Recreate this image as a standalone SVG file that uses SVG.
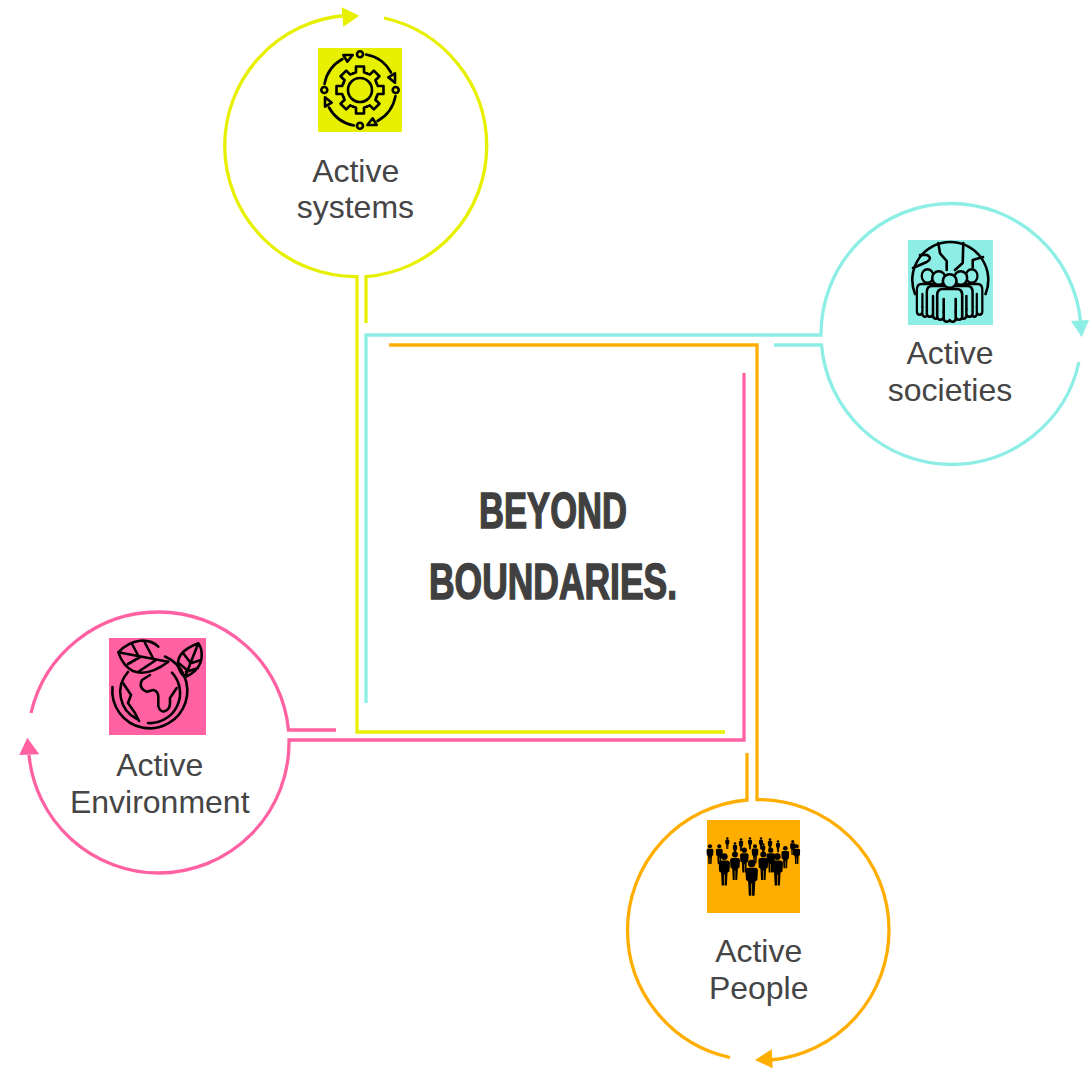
<svg xmlns="http://www.w3.org/2000/svg" width="1089" height="1068" viewBox="0 0 1089 1068">
<style>
.c{fill:none;stroke-width:3.3;stroke-linejoin:miter}
.y{stroke:#e6f000}.t{stroke:#8deee5}.p{stroke:#ff61a3}.o{stroke:#ffae00}
.ya{fill:#e6f000}.ta{fill:#8deee5}.pa{fill:#ff61a3}.oa{fill:#ffae00}
.l{font-family:"Liberation Sans",Arial,sans-serif;font-size:32px;fill:#454545;text-anchor:middle}
.h{font-family:"Liberation Sans",Arial,sans-serif;font-weight:700;font-size:50px;fill:#404040;stroke:#404040;stroke-width:1.5}
.i{fill:none;stroke:#000;stroke-width:2.6;stroke-linecap:round;stroke-linejoin:round}
</style>
<defs>
<g id="tooth"><path d="M-6.9,-16.6L-4,-17.8V-23.5H4V-17.8L6.9,-16.6"/></g>
<g id="cyc"><path d="M6,-35.5A36,36 0 0 1 31,-17.5"/><path d="M28.3,-12.7L35,-16.7V-7.3Z"/><circle cx="0" cy="-35.7" r="3"/></g>
<g id="per" fill="#000"><circle cx="0" cy="10" r="10.5"/><path d="M-10,22H10Q17,22 17.5,30L16,56L10,60L8,100H1V66H-1V100H-8L-10,60L-16,56L-17.5,30Q-17,22 -10,22Z"/></g>
<g id="man"><path d="M-7,8H7Q12.5,8 12.5,14V36A3.3,3.3 0 0 1 6,36V31V38A3.2,3.2 0 0 1 0,39A3.2,3.2 0 0 1 -6,38V31V36A3.3,3.3 0 0 1 -12.5,36V14Q-12.5,8 -7,8Z"/><path d="M-6,18V31M6,18V31"/><circle r="6.8"/></g>
</defs>

<g id="connectors">
<path class="c y" d="M725,732H357V276.6A131,131 0 0 1 224.7,146A131,131 0 0 1 345,15.5"/>
<path class="c y" d="M366,323V276.6A131,131 0 0 0 486.7,146A131,131 0 0 0 384,18"/>
<polygon class="ya" points="341.7,7.3 359.3,15.7 343.3,26.7"/>
<path class="c t" d="M366,703V335H821A130.5,130.5 0 0 1 951,203.5A130.5,130.5 0 0 1 1080.6,322"/>
<path class="c t" d="M774,345H821.5A130.5,130.5 0 0 0 951,464.5A130.5,130.5 0 0 0 1079,362"/>
<polygon class="ta" points="1071,321 1089,320 1081.7,337.3"/>
<path class="c p" d="M744,373V740H289A130.5,130.5 0 0 1 158.5,873A130.5,130.5 0 0 1 29,755"/>
<path class="c p" d="M336,730H288.5A130.5,130.5 0 0 0 158.5,612A130.5,130.5 0 0 0 31,713"/>
<polygon class="pa" points="19.3,755 39.3,754.3 27.3,737.7"/>
<path class="c o" d="M389,345H757V799.5A130.5,130.5 0 0 1 889,930A130.5,130.5 0 0 1 771,1060"/>
<path class="c o" d="M747,753V800A130.5,130.5 0 0 0 627.5,930A130.5,130.5 0 0 0 730,1057.5"/>
<polygon class="oa" points="755,1060 771.7,1049.3 772.7,1068.3"/>
</g>

<g id="node-systems">
<rect class="ya" x="318" y="48" width="84" height="84"/>
<g class="i" transform="translate(360,90)">
<circle r="12"/>
<use href="#tooth"/><use href="#tooth" transform="rotate(45)"/><use href="#tooth" transform="rotate(90)"/><use href="#tooth" transform="rotate(135)"/><use href="#tooth" transform="rotate(180)"/><use href="#tooth" transform="rotate(225)"/><use href="#tooth" transform="rotate(270)"/><use href="#tooth" transform="rotate(315)"/>
<use href="#cyc"/><use href="#cyc" transform="rotate(90)"/><use href="#cyc" transform="rotate(180)"/><use href="#cyc" transform="rotate(270)"/>
</g>
<text class="l" x="355.7" y="181.7">Active</text>
<text class="l" x="355.4" y="218">systems</text>
</g>

<g id="node-societies">
<rect class="ta" x="908" y="240" width="85" height="85"/>
<g class="i">
<path d="M915,294A38,38 0 1 1 985.6,294"/>
<path d="M938.3,243L940,253.3L946.7,261V270M963.3,243L962.7,263L955,270M913,268L926.7,262Q933,258 927,255H920M972.7,267V260L983,257"/>
<use href="#man" style="fill:#8deee5" transform="translate(927.5,276) scale(.85,1)"/>
<use href="#man" style="fill:#8deee5" transform="translate(971.7,276) scale(.85,1)"/>
<use href="#man" style="fill:#8deee5" transform="translate(938.7,278) scale(.95,1)"/>
<use href="#man" style="fill:#8deee5" transform="translate(960.7,278) scale(.95,1)"/>
<use href="#man" style="fill:#8deee5" transform="translate(949.7,281)"/>
</g>
<text class="l" x="950" y="364">Active</text>
<text class="l" x="950" y="400.7">societies</text>
</g>

<g id="node-environment">
<rect class="pa" x="109" y="638" width="97" height="97"/>
<g class="i">
<path d="M112.5,687A37.5,37.5 0 1 0 165,656.5"/>
<path d="M148,723A30,30 0 0 0 172,672.6"/>
<path d="M128,672A30,30 0 0 0 137,719"/>
<path d="M123,683L131,695L128,703L135,713L139,721"/>
<path d="M150,675L142,680Q138,688 146.7,691.7L153.3,690Q158.3,691 158.3,697V706Q160,712 164,711.5Q170,710 170,703V698L176.7,688"/>
<path d="M118.3,652.3Q128,642 140,640.7Q152,640 158.3,646.7M118.3,652.3Q123,666 133,671Q148,677 168.3,661.7M118.3,652.3L168.3,661.7M132,644L139,657M144,641L153,658M128,664L141,656.5M138,672L156,660"/>
<path d="M198.3,643.3Q176,652 178.3,665Q179,672 185,677.3Q201,670 201.7,656Q202,648 198.3,643.3ZM198.3,643.3L185,677.3M183,653L190,662M178.5,663L187,670M201,660L190,663.5M198,668L186,672"/>
</g>
<text class="l" x="159.7" y="776">Active</text>
<text class="l" x="159.7" y="813">Environment</text>
</g>

<g id="node-people">
<rect class="oa" x="707" y="820" width="93" height="93"/>
<use href="#per" transform="translate(727.3,837.3) scale(.117)"/>
<use href="#per" transform="translate(741,838.3) scale(.127)"/>
<use href="#per" transform="translate(750,837.3) scale(.12)"/>
<use href="#per" transform="translate(761,837.3) scale(.12)"/>
<use href="#per" transform="translate(770,838.3) scale(.127)"/>
<use href="#per" transform="translate(778,840.3) scale(.12)"/>
<use href="#per" transform="translate(792.7,840) scale(.15)"/>
<use href="#per" transform="translate(735,842.3) scale(.127)"/>
<use href="#per" transform="translate(763.3,843.3) scale(.117)"/>
<use href="#per" transform="translate(710,844.3) scale(.197)"/>
<use href="#per" transform="translate(719.3,844.3) scale(.197)"/>
<use href="#per" transform="translate(796.7,844.3) scale(.197)"/>
<use href="#per" transform="translate(755,844.3) scale(.19)"/>
<use href="#per" transform="translate(785.3,846) scale(.223)"/>
<use href="#per" transform="translate(744.3,847.7) scale(.247)"/>
<use href="#per" transform="translate(770.7,847.7) scale(.247)"/>
<use href="#per" transform="translate(735,851.7) scale(.283)"/>
<use href="#per" transform="translate(763.3,851.7) scale(.283)"/>
<use href="#per" transform="translate(724.3,853.3) scale(.323)"/>
<use href="#per" transform="translate(777.3,853.3) scale(.323)"/>
<use href="#per" transform="translate(751.7,860) scale(.357)"/>
<text class="l" x="758.7" y="962">Active</text>
<text class="l" x="758.7" y="999">People</text>
</g>

<g id="title">
<text class="h" x="479" y="527.5" textLength="148" lengthAdjust="spacingAndGlyphs">BEYOND</text>
<text class="h" x="429" y="598.5" textLength="248" lengthAdjust="spacingAndGlyphs">BOUNDARIES.</text>
</g>
</svg>
